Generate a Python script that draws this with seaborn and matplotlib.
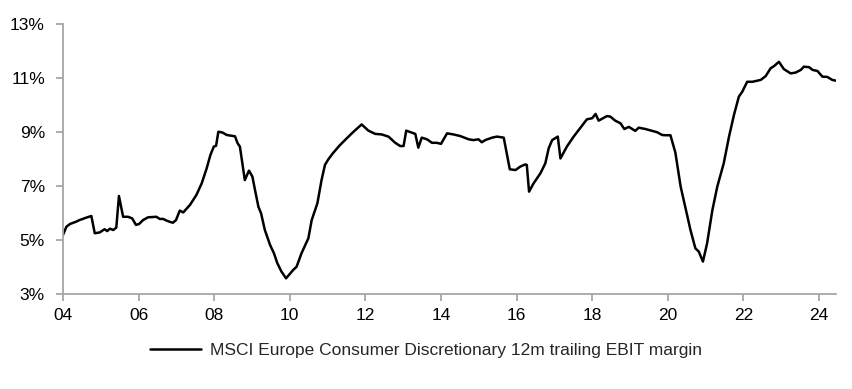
import matplotlib
matplotlib.use("Agg")
import matplotlib.pyplot as plt
import seaborn as sns
import pandas as pd

years = [
    2004.00, 2004.09, 2004.18, 2004.35, 2004.44, 2004.62, 2004.75, 2004.84, 2004.97, 2005.10,
    2005.17, 2005.24, 2005.33, 2005.41, 2005.48, 2005.59, 2005.72, 2005.83, 2005.93, 2006.01,
    2006.12, 2006.25, 2006.47, 2006.56, 2006.65, 2006.74, 2006.83, 2006.91, 2006.99, 2007.09,
    2007.18, 2007.36, 2007.53, 2007.67, 2007.80, 2007.90, 2007.99, 2008.05, 2008.11, 2008.22,
    2008.33, 2008.46, 2008.55, 2008.62, 2008.68, 2008.81, 2008.92, 2009.01, 2009.08, 2009.17,
    2009.24, 2009.34, 2009.48, 2009.58, 2009.67, 2009.78, 2009.90, 2010.09, 2010.18, 2010.31,
    2010.49, 2010.58, 2010.73, 2010.84, 2010.93, 2011.02, 2011.15, 2011.33, 2011.51, 2011.64,
    2011.90, 2012.08, 2012.26, 2012.43, 2012.61, 2012.79, 2012.92, 2013.01, 2013.08, 2013.20,
    2013.32, 2013.40, 2013.49, 2013.63, 2013.76, 2013.89, 2014.00, 2014.16, 2014.33, 2014.51,
    2014.73, 2014.86, 2014.99, 2015.08, 2015.17, 2015.35, 2015.48, 2015.66, 2015.82, 2015.97,
    2016.10, 2016.23, 2016.27, 2016.33, 2016.45, 2016.63, 2016.76, 2016.85, 2016.94, 2017.09,
    2017.16, 2017.33, 2017.51, 2017.69, 2017.86, 2018.00, 2018.09, 2018.17, 2018.39, 2018.48,
    2018.61, 2018.75, 2018.85, 2018.97, 2019.14, 2019.23, 2019.41, 2019.59, 2019.72, 2019.85,
    2019.94, 2020.07, 2020.20, 2020.34, 2020.47, 2020.60, 2020.73, 2020.82, 2020.93, 2021.04,
    2021.18, 2021.31, 2021.48, 2021.62, 2021.75, 2021.88, 2021.97, 2022.10, 2022.24, 2022.46,
    2022.59, 2022.72, 2022.81, 2022.94, 2023.07, 2023.25, 2023.38, 2023.52, 2023.60, 2023.74,
    2023.83, 2023.96, 2024.09, 2024.22, 2024.35, 2024.45,
]
ebit_margin = [
    5.19, 5.49, 5.59, 5.68, 5.74, 5.83, 5.89, 5.25, 5.28, 5.40,
    5.33, 5.42, 5.37, 5.46, 6.63, 5.86, 5.86, 5.80, 5.56, 5.59,
    5.74, 5.84, 5.86, 5.78, 5.78, 5.72, 5.67, 5.64, 5.74, 6.09,
    6.02, 6.30, 6.67, 7.10, 7.65, 8.15, 8.46, 8.49, 9.01, 8.98,
    8.89, 8.86, 8.84, 8.58, 8.46, 7.22, 7.57, 7.35, 6.85, 6.23,
    5.99, 5.37, 4.81, 4.51, 4.14, 3.83, 3.58, 3.89, 4.01, 4.51,
    5.06, 5.74, 6.36, 7.22, 7.78, 7.99, 8.23, 8.52, 8.77, 8.95,
    9.28, 9.05, 8.93, 8.91, 8.83, 8.60, 8.48, 8.48, 9.05, 8.99,
    8.93, 8.42, 8.79, 8.73, 8.60, 8.60, 8.56, 8.95, 8.91, 8.85,
    8.73, 8.70, 8.73, 8.62, 8.70, 8.79, 8.83, 8.79, 7.62, 7.59,
    7.72, 7.80, 7.78, 6.79, 7.10, 7.47, 7.84, 8.40, 8.70, 8.83,
    8.02, 8.46, 8.83, 9.16, 9.47, 9.51, 9.67, 9.42, 9.59, 9.57,
    9.42, 9.32, 9.11, 9.19, 9.04, 9.16, 9.11, 9.04, 8.99, 8.89,
    8.88, 8.88, 8.24, 6.98, 6.17, 5.37, 4.69, 4.57, 4.20, 4.88,
    6.11, 6.98, 7.84, 8.83, 9.63, 10.31, 10.49, 10.86, 10.86, 10.93,
    11.07, 11.36, 11.44, 11.60, 11.33, 11.17, 11.20, 11.30, 11.42, 11.40,
    11.30, 11.26, 11.05, 11.04, 10.93, 10.90,
]
series_label = "MSCI Europe Consumer Discretionary 12m trailing EBIT margin"
x_ticks = list(range(2004, 2025, 2))
x_tick_labels = ["04", "06", "08", "10", "12", "14", "16", "18", "20", "22", "24"]
y_ticks = [3, 5, 7, 9, 11, 13]
y_tick_labels = ["3%", "5%", "7%", "9%", "11%", "13%"]

df = pd.DataFrame({"year": years, "margin": ebit_margin})

sns.set_style("white")
plt.rcParams["font.family"] = ["Liberation Sans", "DejaVu Sans"]

fig = plt.figure(figsize=(8.52, 3.89), dpi=100)
ax = fig.add_axes([63 / 852, 1 - 294 / 389, (836 - 63) / 852, (294 - 24) / 389])

sns.lineplot(data=df, x="year", y="margin", ax=ax, color="black", linewidth=1.8,
             label=series_label, legend=False)

ax.set_xlim(2004, 2024.45)
ax.set_ylim(3, 13)
ax.set_xticks(x_ticks)
ax.set_xticklabels(x_tick_labels)
ax.set_yticks(y_ticks)
ax.set_yticklabels(y_tick_labels)
ax.set_xlabel("")
ax.set_ylabel("")

grey = "#a6a6a6"
for side in ["top", "right"]:
    ax.spines[side].set_visible(False)
for side in ["left", "bottom"]:
    ax.spines[side].set_color(grey)
    ax.spines[side].set_linewidth(1.3)
ax.tick_params(axis="both", which="major", direction="out", length=5, width=1.3,
               color=grey, labelsize=12.5, labelcolor="black",
               left=True, bottom=True)
ax.tick_params(axis="y", pad=8)
ax.tick_params(axis="x", pad=5)

handles, labels = ax.get_legend_handles_labels()
fig.legend(handles, labels, loc="center", bbox_to_anchor=(0.5, 1 - 350 / 389),
           frameon=False, fontsize=12.5, handlelength=2.9, handletextpad=0.5)

fig.savefig("out.png", dpi=100)
